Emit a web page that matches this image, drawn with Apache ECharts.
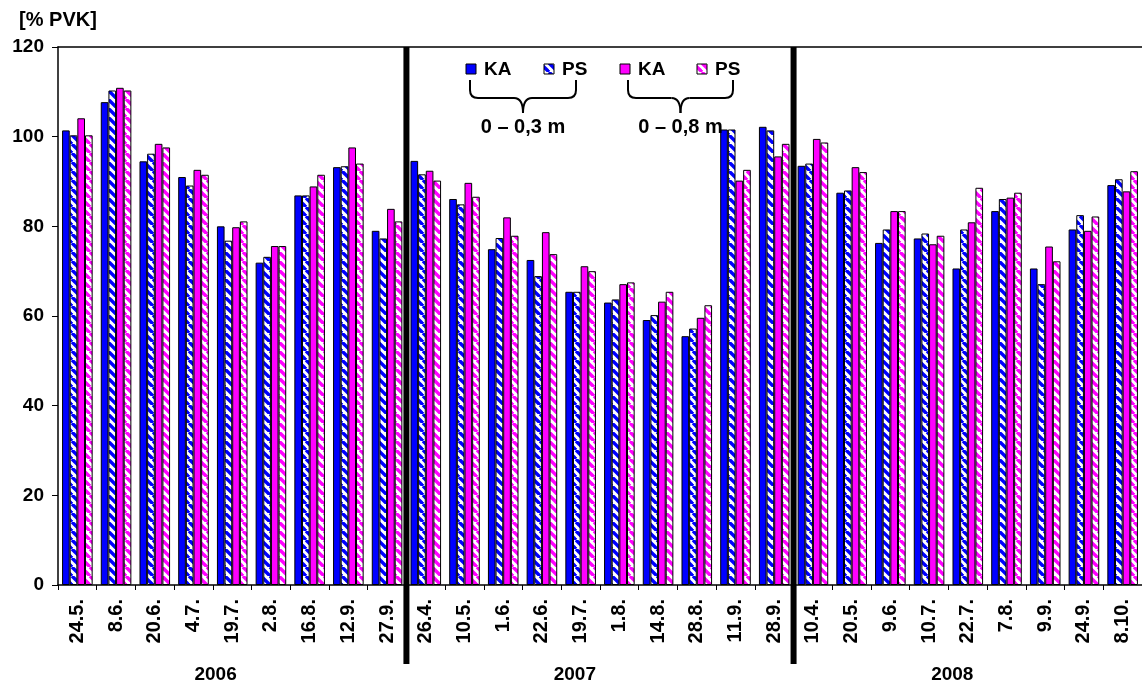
<!DOCTYPE html>
<html>
<head>
<meta charset="utf-8">
<script src="https://cdn.jsdelivr.net/npm/echarts@6/dist/echarts.min.js"></script>
<style>
html,body{margin:0;padding:0;background:#fff;}
#chart{width:1142px;height:689px;}
</style>
</head>
<body>
<div id="chart"></div>
<script>
// ---- data ----
const categories = ['24.5.','8.6.','20.6.','4.7.','19.7.','2.8.','16.8.','12.9.','27.9.',
  '26.4.','10.5.','1.6.','22.6.','19.7.','1.8.','14.8.','28.8.','11.9.','28.9.',
  '10.4.','20.5.','9.6.','10.7.','22.7.','7.8.','9.9.','24.9.','8.10.'];
const ka03 = [101.4,107.7,94.5,91.0,80.0,71.9,86.9,93.2,79.0,
  94.6,86.1,74.9,72.5,65.4,63.0,59.1,55.5,101.6,102.2,
  93.5,87.5,76.3,77.3,70.6,83.4,70.6,79.3,89.2];
const ps03 = [100.3,110.3,96.2,89.1,76.8,73.2,86.9,93.4,77.3,
  91.6,84.9,77.4,68.9,65.4,63.7,60.2,57.2,101.6,101.4,
  94.0,88.0,79.3,78.4,79.3,86.1,67.1,82.5,90.5];
const ka08 = [104.1,110.9,98.4,92.6,79.8,75.6,88.9,97.6,83.9,
  92.4,89.7,82.0,78.7,71.1,67.1,63.2,59.6,90.2,95.6,
  99.5,93.2,83.4,76.0,80.9,86.4,75.5,79.0,87.8];
const ps08 = [100.3,110.3,97.6,91.5,81.1,75.6,91.5,94.0,81.1,
  90.2,86.6,77.9,73.8,70.0,67.5,65.4,62.4,92.6,98.4,
  98.7,92.1,83.4,77.9,88.6,87.5,72.2,82.2,92.3];
const yTicks = {min: 0, max: 120, interval: 20};
const years = ['2006','2007','2008'];
const yearGroups = [[0, 9], [9, 19], [19, 28]]; // category index ranges
const separators = [9, 19]; // boundaries (before index)
const legendItems = ['KA','PS','KA','PS'];
const depthLabels = ['0 – 0,3 m','0 – 0,8 m'];

const FONT = 'Liberation Sans, Arial, sans-serif';
const BLUE = '#0000FF', MAG = '#FF00FF';

function makeHatch(color){
  const s = 9;
  const c = document.createElement('canvas');
  c.width = s; c.height = s;
  const g = c.getContext('2d');
  g.fillStyle = '#fff'; g.fillRect(0,0,s,s);
  g.strokeStyle = color; g.lineWidth = 3.4;
  for (const x0 of [-s, 0, s]) {
    g.beginPath(); g.moveTo(x0, 0); g.lineTo(x0 + s, s); g.stroke();
  }
  return {image: c, repeat: 'repeat'};
}
const hatchBlue = makeHatch(BLUE);
const hatchMag = makeHatch(MAG);

const chart = echarts.init(document.getElementById('chart'), null, {renderer:'canvas'});

function bar(name, data, color){
  return {
    name, type:'bar', data,
    barGap:'0%', barCategoryGap:'21%',
    itemStyle:{color, borderColor:'#000', borderWidth:1},
    emphasis:{disabled:true},
    animation:false
  };
}

const option = {
  animation:false,
  grid:{left:58, right:-2, top:47, bottom:104, containLabel:false},
  xAxis:[{
    type:'category', data:categories,
    axisLine:{show:true, lineStyle:{color:'#000', width:1.5}},
    axisTick:{show:true, interval:0, length:5, lineStyle:{color:'#000', width:1}},
    axisLabel:{interval:0, rotate:90, margin:14, color:'#000', fontWeight:'bold', fontSize:20, fontFamily:FONT},
    splitLine:{show:false}
  },{
    type:'category', data:categories, position:'top',
    axisLine:{show:true, lineStyle:{color:'#000', width:1.5}},
    axisTick:{show:false}, axisLabel:{show:false}, splitLine:{show:false}
  }],
  yAxis:{
    type:'value', min:yTicks.min, max:yTicks.max, interval:yTicks.interval,
    name:'[% PVK]', nameLocation:'end', nameGap:17,
    nameTextStyle:{color:'#000', fontWeight:'bold', fontSize:20, fontFamily:FONT, align:'center'},
    axisLine:{show:true, lineStyle:{color:'#000', width:1.5}},
    axisTick:{show:true, inside:false, length:6, lineStyle:{color:'#000', width:1}},
    axisLabel:{margin:14, color:'#000', fontWeight:'bold', fontSize:19, fontFamily:FONT},
    splitLine:{show:false}
  },
  series:[
    bar('KA 0-0.3', ka03, BLUE),
    bar('PS 0-0.3', ps03, hatchBlue),
    bar('KA 0-0.8', ka08, MAG),
    bar('PS 0-0.8', ps08, hatchMag)
  ]
};
chart.setOption(option);

// ---- annotations computed from the axis ----
const x0 = chart.convertToPixel({xAxisIndex:0}, 0);
const x1 = chart.convertToPixel({xAxisIndex:0}, 1);
const cw = x1 - x0;
const leftEdge = x0 - cw/2;
const yTop = chart.convertToPixel({yAxisIndex:0}, yTicks.max);
const yZero = chart.convertToPixel({yAxisIndex:0}, 0);

const graphics = [];
separators.forEach(b => {
  const x = leftEdge + b*cw;
  graphics.push({type:'line', silent:true, z:100,
    shape:{x1:x, y1:yTop, x2:x, y2:yZero + 79},
    style:{stroke:'#000', lineWidth:6}});
});
const yearShift = [-0.43, -0.65, -0.4];
years.forEach((t,i) => {
  const [a,b] = yearGroups[i];
  const cx = leftEdge + ((a+b)/2 + yearShift[i])*cw;
  graphics.push({type:'text', silent:true, z:100, x:cx, y:yZero + 90,
    style:{text:t, fill:'#000', font:'bold 19px ' + FONT, align:'center', verticalAlign:'middle'}});
});

// legend
const legendX = [[466, 484], [544, 562], [620, 638], [697, 715]];
const legendFill = [BLUE, hatchBlue, MAG, hatchMag];
legendItems.forEach((t,i) => {
  graphics.push({type:'rect', silent:true, z:100,
    shape:{x:legendX[i][0], y:64, width:10, height:10},
    style:{fill:legendFill[i], stroke:'#000', lineWidth:1}});
  graphics.push({type:'text', silent:true, z:100, x:legendX[i][1], y:70,
    style:{text:t, fill:'#000', font:'bold 19px ' + FONT, align:'left', verticalAlign:'middle'}});
});
const braceStyle = {stroke:'#000', lineWidth:2, fill:null};
function pushBrace(l, r){
  const c = (l + r)/2;
  const top = 80, mid = 98, tip = 113;
  const parts = [
    {type:'line', shape:{x1:l, y1:top, x2:l, y2:mid-8}},
    {type:'bezierCurve', shape:{x1:l, y1:mid-8, cpx1:l, cpy1:mid, x2:l+8, y2:mid}},
    {type:'line', shape:{x1:l+8, y1:mid, x2:c-9, y2:mid}},
    {type:'bezierCurve', shape:{x1:c-9, y1:mid, cpx1:c, cpy1:mid, x2:c, y2:tip}},
    {type:'bezierCurve', shape:{x1:c, y1:tip, cpx1:c, cpy1:mid, x2:c+9, y2:mid}},
    {type:'line', shape:{x1:c+9, y1:mid, x2:r-8, y2:mid}},
    {type:'bezierCurve', shape:{x1:r-8, y1:mid, cpx1:r, cpy1:mid, x2:r, y2:mid-8}},
    {type:'line', shape:{x1:r, y1:mid-8, x2:r, y2:top}}
  ];
  parts.forEach(p => { p.silent = true; p.z = 100; p.style = braceStyle; graphics.push(p); });
}
[[470, 576], [628, 733]].forEach((p,i) => {
  pushBrace(p[0], p[1]);
  graphics.push({type:'text', silent:true, z:100, x:(p[0]+p[1])/2, y:127,
    style:{text:depthLabels[i], fill:'#000', font:'bold 20px ' + FONT, align:'center', verticalAlign:'middle'}});
});
chart.setOption({graphic:graphics});
</script>
</body>
</html>
